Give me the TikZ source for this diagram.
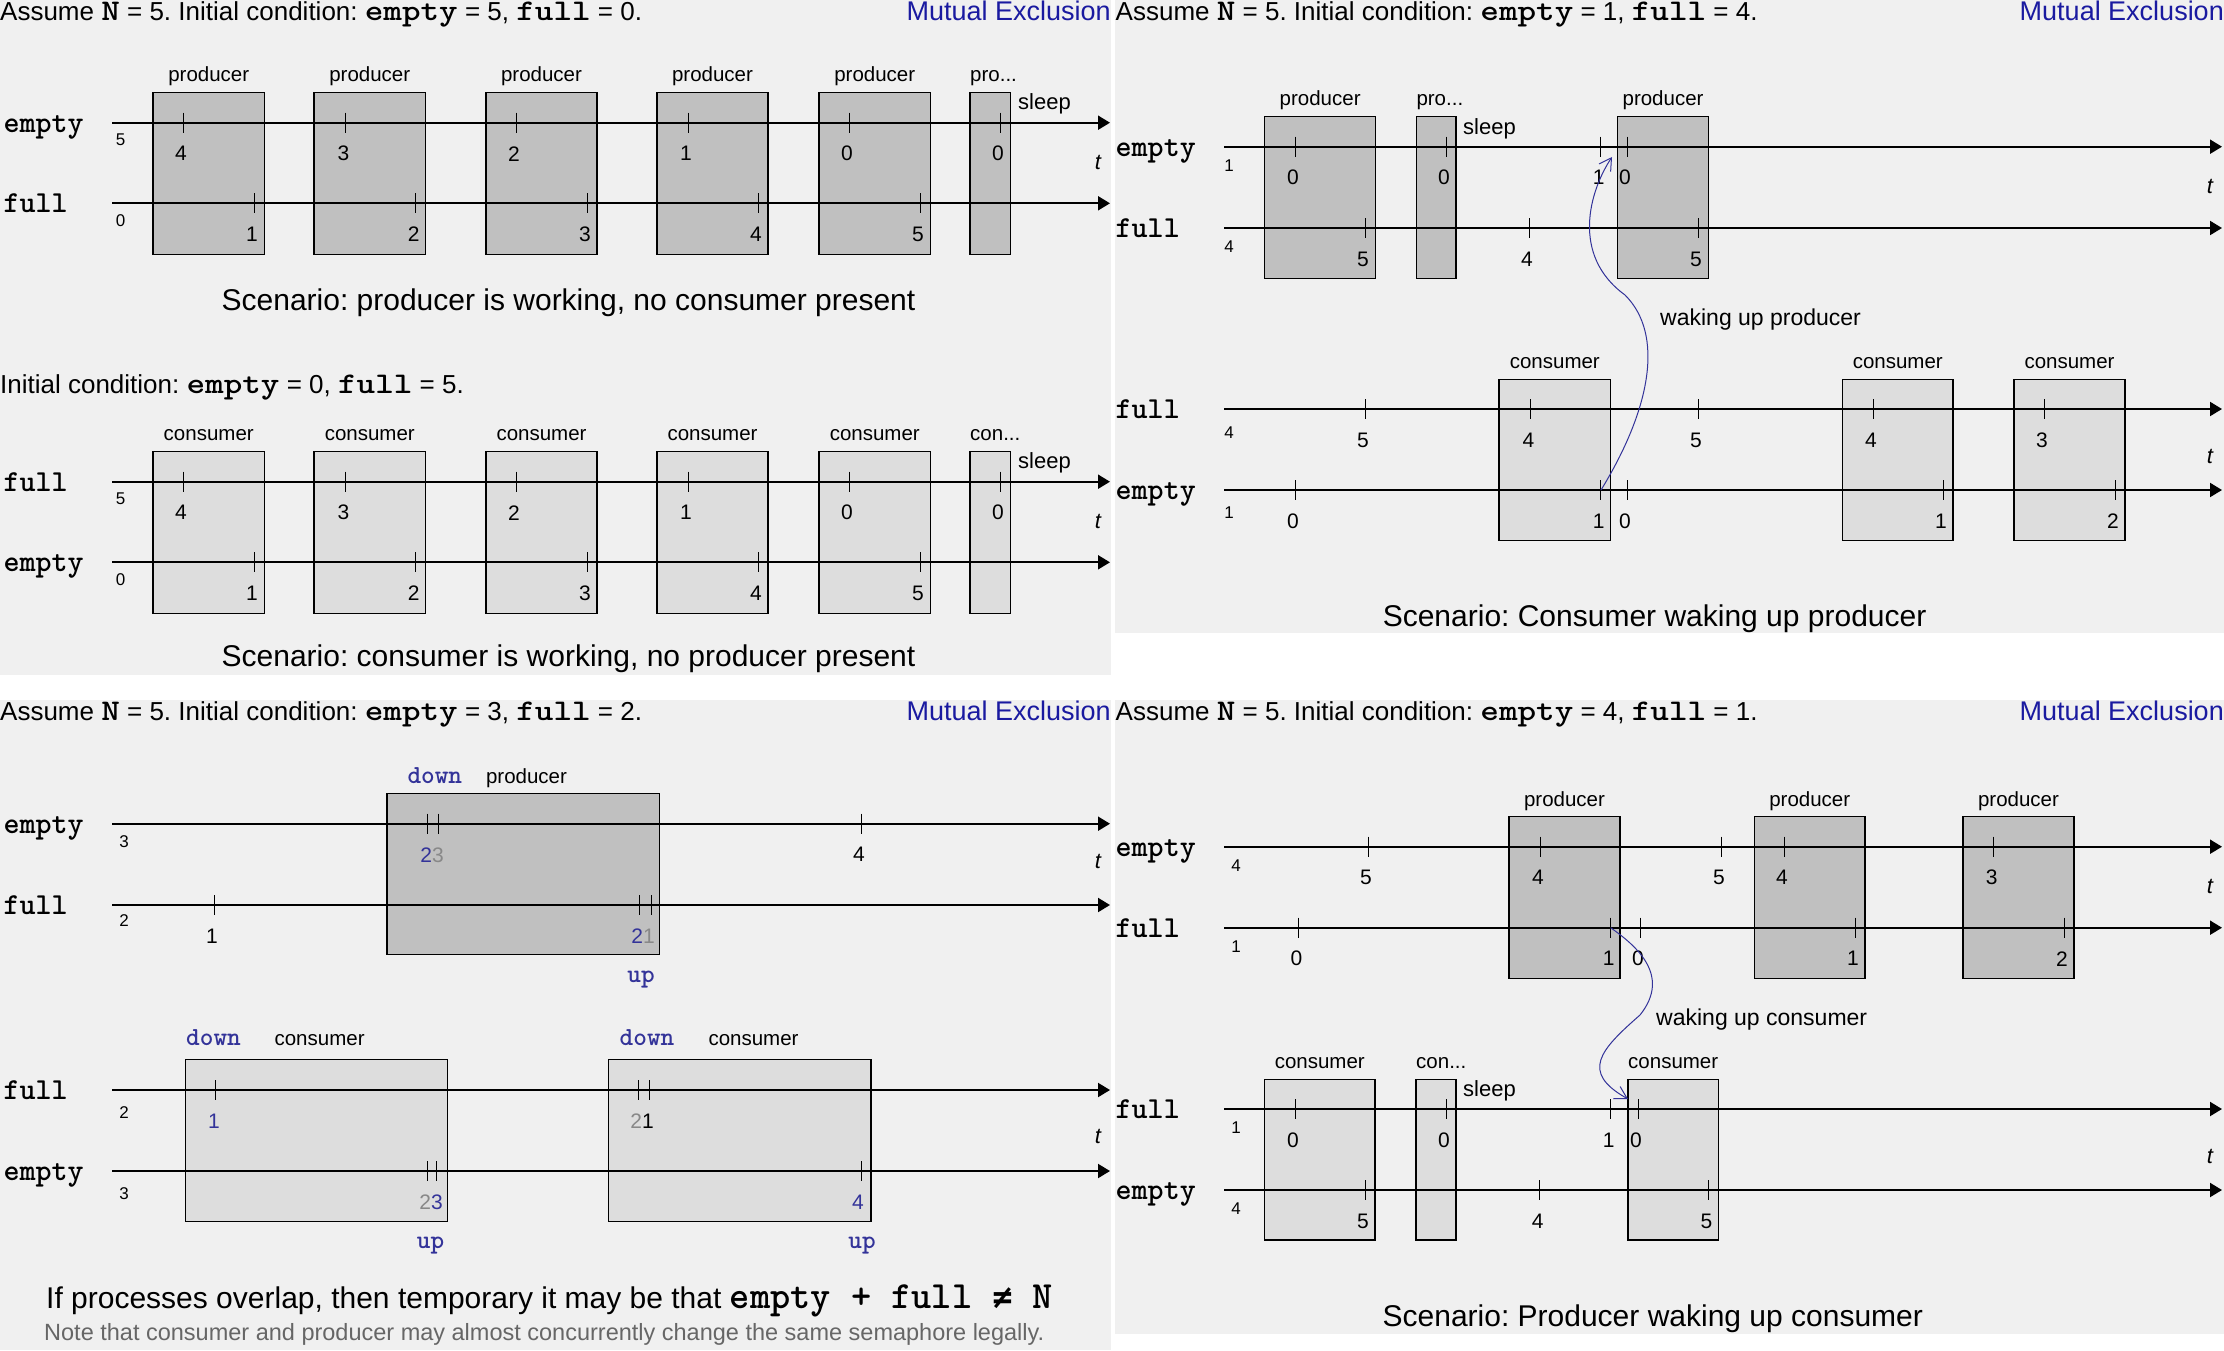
\documentclass[tikz,border=0pt]{standalone}
\usepackage{fontspec}
\setmainfont{Liberation Sans}
\newfontfamily\lmb{lmmonolt10-bold.otf}
\newfontfamily\lmbw{lmmonolt10-bold.otf}[FakeStretch=1.18]
\newfontfamily\djm{DejaVu Sans Mono}
\usetikzlibrary{arrows.meta}
\frenchspacing
\definecolor{bg}{RGB}{240,240,240}
\definecolor{pdark}{RGB}{192,192,192}
\definecolor{clight}{RGB}{221,221,221}
\definecolor{mex}{RGB}{26,26,160}
\definecolor{sem}{RGB}{51,51,153}
\definecolor{gr}{RGB}{136,136,136}
\definecolor{notec}{RGB}{102,102,102}
\newcommand\fs[1]{\fontsize{#1}{#1}\selectfont}
\newcommand\cmono{\lmb}
\newcommand\hc[1]{{\lmbw\fs{30}#1}}
\newcount\nn
\newcommand\tk[3]{\draw[tick] (#1,#2-10) -- (#1,#2+10);\global\advance\nn by 1\relax\node[num,name=n\the\nn] at (#1-2,#2+31) {#3};}
\newcommand\tko[2]{\draw[tick] (#1,#2-10) -- (#1,#2+10);}
\newcommand\boxat[6]{\node[#1,minimum width={#5-#3},minimum height={#6-#4}] (#2) at ({(#3+#5)/2},{(#4+#6)/2}) {};}
\newcommand\workpanel[8]{%
\boxat{#2}{#1b1}{153}{92.3}{264.5}{254.3}
\boxat{#2}{#1b2}{314}{92.3}{425.5}{254.3}
\boxat{#2}{#1b3}{486}{92.3}{597}{254.3}
\boxat{#2}{#1b4}{657}{92.3}{768}{254.3}
\boxat{#2}{#1b5}{819}{92.3}{930.5}{254.3}
\boxat{#2}{#1b6}{970}{92.3}{1010.6}{254.3}
\node[plab] (#1l1) at ([yshift=10.5pt]#1b1.north) {#3};
\node[plab] (#1l2) at ([yshift=10.5pt]#1b2.north) {#3};
\node[plab] (#1l3) at ([yshift=10.5pt]#1b3.north) {#3};
\node[plab] (#1l4) at ([yshift=10.5pt]#1b4.north) {#3};
\node[plab] (#1l5) at ([yshift=10.5pt]#1b5.north) {#3};
\node[plab,anchor=base west] (#1l6) at ([yshift=10.5pt]#1b6.north west) {#4};
\draw[axis] (112,122.7) -- (1110,122.7);
\draw[axis] (112,203.3) -- (1110,203.3);
\node[semlab] (#1v1) at (3.5,132.2) {#5};
\node[semlab] (#1v2) at (3.5,212.8) {#6};
\node[init] (#1i1) at (120.5,140) {#7};
\node[init] (#1i2) at (120.5,220.5) {#8};
\tk{183}{122.7}{4}\tk{345.4}{122.7}{3}\tk{516}{122.7}{2}\tk{688}{122.7}{1}\tk{849}{122.7}{0}\tk{1000}{122.7}{0}
\tk{254}{203.3}{1}\tk{415.6}{203.3}{2}\tk{587}{203.3}{3}\tk{758}{203.3}{4}\tk{920}{203.3}{5}
\node[sleep] (#1s) at (1018,104) {sleep};
\node[tlab] (#1t) at (1098,162) {t};
}
\begin{document}
\begin{tikzpicture}[x=1pt,y=-1pt,
 axis/.style={line width=2pt,-{Triangle[length=12pt,width=14pt]}},
 tick/.style={line width=1pt},
 pbox/.style={draw,line width=1.2pt,fill=pdark,inner sep=0pt,outer sep=0pt,rectangle},
 cbox/.style={pbox,fill=clight},
 num/.style={font=\fs{21},inner sep=0pt},
 init/.style={font=\fs{17},inner sep=0pt},
 plab/.style={font=\fs{20.5},anchor=base,inner sep=0pt},
 semlab/.style={font=\cmono\fs{30.5},anchor=base west,inner sep=0pt},
 head/.style={font=\fs{26},anchor=base west,inner sep=0pt},
 mexs/.style={font=\fs{27},text=mex,anchor=base east,inner sep=0pt},
 sleep/.style={font=\fs{22},anchor=west,inner sep=0pt},
 tlab/.style={font=\itshape\fs{22},inner sep=0pt},
 scen/.style={font=\fs{30},anchor=base,inner sep=0pt},
 wlab/.style={font=\fs{23},anchor=west,inner sep=0pt},
 ud/.style={font=\cmono\fs{26},text=sem,anchor=base,inner sep=0pt},
 wake/.style={draw=sem,line width=1pt,-{Straight Barb[length=12pt,width=14pt]}}]
\useasboundingbox (0,0) rectangle (2224,1350);
\fill[white] (0,0) rectangle (2224,1350);
\fill[bg] (0,0) rectangle (1111,675);
\fill[bg] (1115,0) rectangle (2224,633);
\fill[bg] (0,700) rectangle (1111,1350);
\fill[bg] (1115,700) rectangle (2224,1334);
% ---------- panel 1 ----------
\node[head] (ah) at (0,20.5) {Assume \hc{N} = 5. Initial condition: \hc{empty} = 5, \hc{full} = 0.};
\node[mexs] (am) at (1111,20.5) {Mutual Exclusion};
\workpanel{pA}{pbox}{producer}{pro...}{empty}{full}{5}{0}
\node[scen] (asc) at (568.5,310) {Scenario: producer is working, no consumer present};
% ---------- panel 2 ----------
\node[head] (bh) at (0,393.3) {Initial condition: \hc{empty} = 0, \hc{full} = 5.};
\begin{scope}[shift={(0,359)}]
\workpanel{pB}{cbox}{consumer}{con...}{full}{empty}{5}{0}
\end{scope}
\node[scen] (bsc) at (568.5,666.7) {Scenario: consumer is working, no producer present};
% ---------- panel 3 ----------
\node[head] (ch) at (1115.5,20.5) {Assume \hc{N} = 5. Initial condition: \hc{empty} = 1, \hc{full} = 4.};
\node[mexs] (cm) at (2224,20.5) {Mutual Exclusion};
\boxat{pbox}{cb1}{1264.5}{116.3}{1375.8}{278.3}
\boxat{pbox}{cb2}{1416.3}{116.3}{1456}{278.3}
\boxat{pbox}{cb3}{1617.7}{116.3}{1708.4}{278.3}
\node[plab] (cl1) at ([yshift=10.5pt]cb1.north) {producer};
\node[plab,anchor=base west] (cl2) at ([yshift=10.5pt]cb2.north west) {pro...};
\node[plab] (cl3) at ([yshift=10.5pt]cb3.north) {producer};
\node[sleep] (cs) at (1463,129) {sleep};
\draw[axis] (1224,146.7) -- (2222,146.7);
\draw[axis] (1224,228) -- (2222,228);
\node[semlab] (cv1) at (1115.5,156.2) {empty};
\node[semlab] (cv2) at (1115.5,237.5) {full};
\node[init] (ci1) at (1229,165.7) {1};
\node[init] (ci2) at (1229,246.7) {4};
\tk{1295}{146.7}{0}\tk{1446}{146.7}{0}\tk{1600.6}{146.7}{1}\tk{1627}{146.7}{0}
\tk{1365}{228}{5}\tk{1529}{228}{4}\tk{1698}{228}{5}
\node[tlab] (ct1) at (2210,186) {t};
\node[wlab] (cw) at (1660,320) {waking up producer};
\boxat{cbox}{cb4}{1499}{379.3}{1610.6}{540.3}
\boxat{cbox}{cb5}{1842.5}{379.3}{1953}{540.3}
\boxat{cbox}{cb6}{2014}{379.3}{2125}{540.3}
\node[plab] (cl4) at ([yshift=10.5pt]cb4.north) {consumer};
\node[plab] (cl5) at ([yshift=10.5pt]cb5.north) {consumer};
\node[plab] (cl6) at ([yshift=10.5pt]cb6.north) {consumer};
\draw[axis] (1224,409) -- (2222,409);
\draw[axis] (1224,490) -- (2222,490);
\node[semlab] (cv3) at (1115.5,418.5) {full};
\node[semlab] (cv4) at (1115.5,499.5) {empty};
\node[init] (ci3) at (1229,432.3) {4};
\node[init] (ci4) at (1229,512.7) {1};
\tk{1365}{409}{5}\tk{1530.4}{409}{4}\tk{1698}{409}{5}\tk{1873}{409}{4}\tk{2044}{409}{3}
\tk{1295}{490}{0}\tk{1600.6}{490}{1}\tk{1627}{490}{0}\tk{1943}{490}{1}\tk{2115}{490}{2}
\node[tlab] (ct2) at (2210,456.7) {t};
\coordinate (wp1) at (1601,490);
\coordinate (wp2) at (1612,157);
\draw[wake] (wp1) .. controls (1650,410) and (1665,335) .. (1625,295) .. controls (1570,255) and (1590,190) .. (wp2);
\node[scen] (csc) at (1654.6,626.7) {Scenario: Consumer waking up producer};
% ---------- panel 4 ----------
\node[head] (dh) at (0,720.7) {Assume \hc{N} = 5. Initial condition: \hc{empty} = 3, \hc{full} = 2.};
\node[mexs] (dm) at (1111,720.7) {Mutual Exclusion};
\boxat{pbox}{db1}{387}{793.3}{659.6}{954.3}
\node[ud] (dd1) at (434.8,783) {down};
\node[plab] (dl1) at (526.5,783) {producer};
\draw[axis] (112,823.7) -- (1110,823.7);
\draw[axis] (112,905) -- (1110,905);
\node[semlab] (dv1) at (3.5,833.2) {empty};
\node[semlab] (dv2) at (3.5,914.5) {full};
\node[init] (di1) at (124,841.7) {3};
\node[init] (di2) at (124,921) {2};
\tko{427.7}{823.7}\tko{438.3}{823.7}
\node[num] (dn1) at (432,855) {\textcolor{sem}{2}\textcolor{gr}{3}};
\tk{861}{823.7}{4}
\tk{214}{905}{1}
\tko{639}{905}\tko{651}{905}
\node[num] (dn2) at (643,936.5) {\textcolor{sem}{2}\textcolor{gr}{1}};
\node[ud] (du1) at (641,982.7) {up};
\node[tlab] (dt1) at (1098,861.7) {t};
\boxat{cbox}{db2}{185.2}{1059.3}{447.2}{1221.3}
\boxat{cbox}{db3}{608.6}{1059.3}{871}{1221.3}
\node[ud] (dd2) at (213.5,1045) {down};
\node[plab] (dl2) at (319.6,1045) {consumer};
\node[ud] (dd3) at (647,1045) {down};
\node[plab] (dl3) at (753.5,1045) {consumer};
\draw[axis] (112,1090) -- (1110,1090);
\draw[axis] (112,1171) -- (1110,1171);
\node[semlab] (dv3) at (3.5,1099.5) {full};
\node[semlab] (dv4) at (3.5,1180.5) {empty};
\node[init] (di3) at (124,1112.7) {2};
\node[init] (di4) at (124,1193.3) {3};
\tko{215.5}{1090}
\node[num,text=sem] (dn3) at (214,1121) {1};
\tko{638.4}{1090}\tko{649}{1090}
\node[num] (dn4) at (642,1121) {\textcolor{gr}{2}1};
\tko{427.4}{1171}\tko{436.6}{1171}
\node[num] (dn5) at (431,1202) {\textcolor{gr}{2}\textcolor{sem}{3}};
\tko{861}{1171}
\node[num,text=sem] (dn6) at (858,1202) {4};
\node[ud] (du2) at (430.6,1248.3) {up};
\node[ud] (du3) at (862,1248.3) {up};
\node[tlab] (dt2) at (1098,1136.7) {t};
\node[anchor=base west,font=\fs{30},inner sep=0pt] (dov) at (46,1308.3) {If processes overlap, then temporary it may be that {\cmono\fs{38.5}empty + full {\djm\bfseries\fs{33}≠} N}};
\node[anchor=base west,font=\fs{23.5},text=notec,inner sep=0pt] (dnote) at (44,1340) {Note that consumer and producer may almost concurrently change the same semaphore legally.};
% ---------- panel 5 ----------
\node[head] (eh) at (1115.5,720.7) {Assume \hc{N} = 5. Initial condition: \hc{empty} = 4, \hc{full} = 1.};
\node[mexs] (em) at (2224,720.7) {Mutual Exclusion};
\boxat{pbox}{eb1}{1509}{816.7}{1620}{978.3}
\boxat{pbox}{eb2}{1754.5}{816.7}{1865}{978.3}
\boxat{pbox}{eb3}{1963}{816.7}{2074}{978.3}
\node[plab] (el1) at ([yshift=10.5pt]eb1.north) {producer};
\node[plab] (el2) at ([yshift=10.5pt]eb2.north) {producer};
\node[plab] (el3) at ([yshift=10.5pt]eb3.north) {producer};
\draw[axis] (1224,846.7) -- (2222,846.7);
\draw[axis] (1224,927.7) -- (2222,927.7);
\node[semlab] (ev1) at (1115.5,856.2) {empty};
\node[semlab] (ev2) at (1115.5,937.2) {full};
\node[init] (ei1) at (1236,865.7) {4};
\node[init] (ei2) at (1236,946.7) {1};
\tk{1368}{846.7}{5}\tk{1540}{846.7}{4}\tk{1721}{846.7}{5}\tk{1784}{846.7}{4}\tk{1993.6}{846.7}{3}
\tk{1298.5}{927.7}{0}\tk{1610.6}{927.7}{1}\tk{1640}{927.7}{0}\tk{1855}{927.7}{1}\tk{2064}{927.7}{2}
\node[tlab] (et1) at (2210,886.7) {t};
\node[wlab] (ew) at (1656,1020) {waking up consumer};
\boxat{cbox}{eb4}{1264.5}{1079.3}{1375}{1240}
\boxat{cbox}{eb5}{1416}{1079.3}{1456}{1240}
\boxat{cbox}{eb6}{1628}{1079.3}{1718.4}{1240}
\node[plab] (el4) at ([yshift=10.5pt]eb4.north) {consumer};
\node[plab,anchor=base west] (el5) at ([yshift=10.5pt]eb5.north west) {con...};
\node[plab] (el6) at ([yshift=10.5pt]eb6.north) {consumer};
\node[sleep] (es) at (1463,1090.7) {sleep};
\draw[axis] (1224,1109) -- (2222,1109);
\draw[axis] (1224,1190) -- (2222,1190);
\node[semlab] (ev3) at (1115.5,1118.5) {full};
\node[semlab] (ev4) at (1115.5,1199.5) {empty};
\node[init] (ei3) at (1236,1127.7) {1};
\node[init] (ei4) at (1236,1209) {4};
\tk{1295}{1109}{0}\tk{1446}{1109}{0}\tk{1610.6}{1109}{1}\tk{1638}{1109}{0}
\tk{1365}{1190}{5}\tk{1539.6}{1190}{4}\tk{1708.5}{1190}{5}
\node[tlab] (et2) at (2210,1156.7) {t};
\coordinate (wc1) at (1610.6,927.7);
\coordinate (wc2) at (1628,1099);
\draw[wake] (wc1) .. controls (1635,945) and (1672,975) .. (1640,1015) .. controls (1600,1050) and (1580,1072) .. (wc2);
\node[scen] (esc) at (1652.8,1326.7) {Scenario: Producer waking up consumer};
\end{tikzpicture}
\end{document}
